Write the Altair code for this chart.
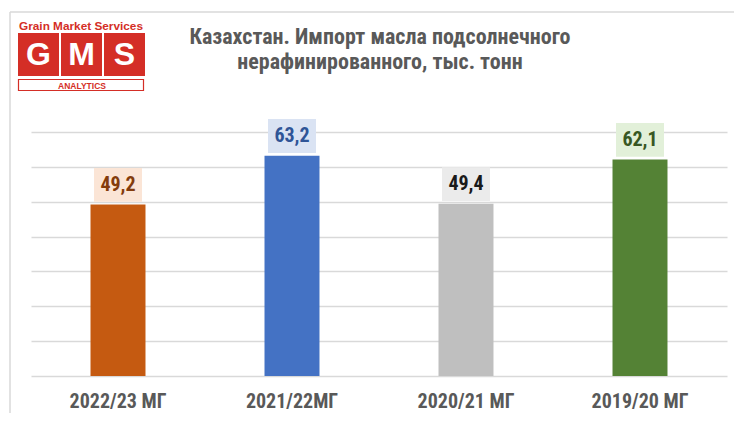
import altair as alt
import pandas as pd

categories = ["2022/23 МГ", "2021/22МГ", "2020/21 МГ", "2019/20 МГ"]
values = [49.2, 63.2, 49.4, 62.1]
value_labels = ["49,2", "63,2", "49,4", "62,1"]
bar_colors = ["#c55a11", "#4472c4", "#bfbfbf", "#548235"]
box_colors = ["#fbe5d6", "#dae3f3", "#ebebeb", "#e2f0d9"]
text_colors = ["#843c0c", "#2f5597", "#1a1a1a", "#385723"]
grid_values = [0, 10, 20, 30, 40, 50, 60, 70]

title_text = "Казахстан. Импорт масла подсолнечного\nнерафинированного, тыс. тонн"

df = pd.DataFrame({
    "cat": categories,
    "value": values,
    "label": value_labels,
    "bar_color": bar_colors,
    "box_color": box_colors,
    "text_color": text_colors,
})

FONT = "Liberation Sans Narrow, Roboto Condensed, Arial Narrow, sans-serif"
W, H = 696, 244
OX, OY = 31, 132  # page position of the plot area (for decorations)

xscale = alt.Scale(paddingInner=0.684, paddingOuter=0.342)
xaxis = alt.Axis(labelFont=FONT, labelFontSize=20, labelFontWeight="bold",
                 labelColor="#595959", labelPadding=15, ticks=False,
                 domain=False, labelAngle=0, title=None)
yscale = alt.Scale(domain=[0, 70], nice=False)
yaxis = alt.Axis(values=grid_values, labels=False, ticks=False,
                 domain=False, grid=True, gridColor="#d9d9d9", gridWidth=1.5, title=None)

X = alt.X("cat:N", sort=categories, scale=xscale, axis=xaxis)

base = alt.Chart(df)

bars = base.mark_bar().encode(
    x=X,
    y=alt.Y("value:Q", scale=yscale, axis=yaxis),
    color=alt.Color("bar_color:N", scale=None),
)

boxes = base.transform_calculate(
    b0="datum.value + 0.8", b1="datum.value + 10.5"
).mark_bar(width=48).encode(
    x=X,
    y=alt.Y("b0:Q", scale=yscale, axis=yaxis),
    y2="b1:Q",
    color=alt.Color("box_color:N", scale=None),
)

texts = base.transform_calculate(
    t="datum.value + 5.65"
).mark_text(font=FONT, fontSize=20, fontWeight="bold", baseline="middle").encode(
    x=X,
    y=alt.Y("t:Q", scale=yscale, axis=yaxis),
    text="label:N",
    color=alt.Color("text_color:N", scale=None),
)

deco = alt.Chart(pd.DataFrame({"d": [0]}))

frame_top = deco.mark_rule(color="#d9d9d9", strokeWidth=1.5).encode(
    x=alt.value(10 - OX), x2=alt.value(742 - OX), y=alt.value(12 - OY))
frame_left = deco.mark_rule(color="#d9d9d9", strokeWidth=1.5).encode(
    x=alt.value(10 - OX), y=alt.value(12 - OY), y2=alt.value(430 - OY))

title = deco.mark_text(font=FONT, fontSize=22, fontWeight="bold", color="#595959",
                       lineBreak="\n", lineHeight=25, baseline="middle", align="center").encode(
    x=alt.value(380 - OX), y=alt.value(37 - OY), text=alt.value(title_text))

logo_red = "#d42e26"
logo_top = deco.mark_text(font="Liberation Sans, Arial, sans-serif", fontSize=11.8,
                          fontWeight="bold", color=logo_red, baseline="middle",
                          align="center").encode(
    x=alt.value(81 - OX), y=alt.value(26 - OY), text=alt.value("Grain Market Services"))

gms_df = pd.DataFrame({"letter": ["G", "M", "S"], "i": [0, 1, 2]})
gms_boxes = alt.Chart(gms_df).transform_calculate(
    x0=f"{18 - OX} + datum.i * 43", x1=f"{18 - OX} + datum.i * 43 + 41"
).mark_rect(color=logo_red).encode(
    x=alt.X("x0:Q", scale=None), x2="x1:Q",
    y=alt.value(33 - OY), y2=alt.value(76 - OY))
gms_letters = alt.Chart(gms_df).transform_calculate(
    xc=f"{18 - OX} + datum.i * 43 + 20.5"
).mark_text(font="Liberation Sans, Arial, sans-serif", fontSize=32, fontWeight="bold",
            color="white", baseline="middle", align="center").encode(
    x=alt.X("xc:Q", scale=None), y=alt.value(55 - OY), text="letter:N")

analytics_box = deco.mark_rect(fill="white", stroke=logo_red, strokeWidth=1.2).encode(
    x=alt.value(18.5 - OX), x2=alt.value(143.5 - OX),
    y=alt.value(79.5 - OY), y2=alt.value(90.5 - OY))
analytics_text = deco.mark_text(font="Liberation Sans, Arial, sans-serif", fontSize=8.5,
                                fontWeight="bold", color=logo_red, baseline="middle",
                                align="center").encode(
    x=alt.value(82 - OX), y=alt.value(85.5 - OY), text=alt.value("ANALYTICS"))

chart = alt.layer(
    bars, boxes, texts, frame_top, frame_left, title,
    logo_top, gms_boxes, gms_letters, analytics_box, analytics_text
).properties(
    width=W, height=H,
    autosize=alt.AutoSizeParams(type="none"),
    padding={"left": OX - 8, "top": OY - 8, "right": 7, "bottom": 37},
    background="white",
).configure_view(stroke=None)

chart.save("out.html", embed_options={"renderer": "svg", "actions": False})
